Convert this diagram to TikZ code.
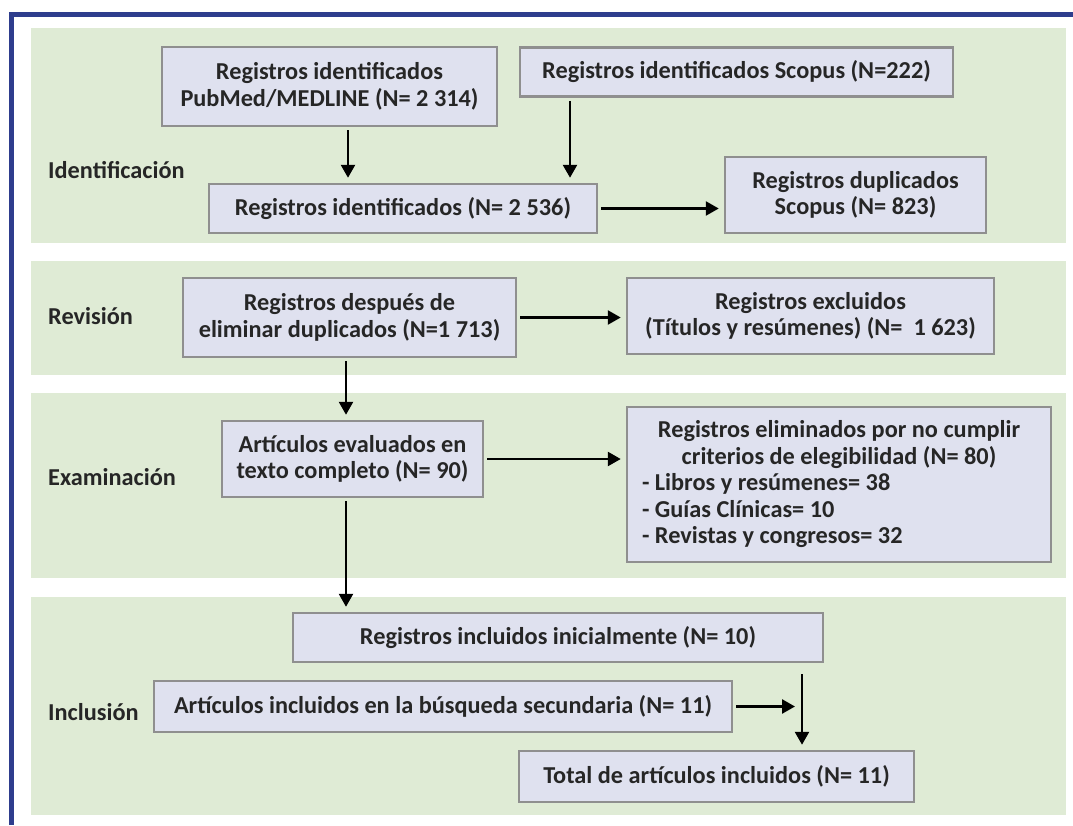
\documentclass[tikz,border=0pt]{standalone}
\usepackage{fontspec}
\setmainfont{Carlito}
\usetikzlibrary{arrows.meta}
\definecolor{frameblue}{HTML}{2E3D8D}
\definecolor{panelgreen}{HTML}{DFEBD5}
\definecolor{boxfill}{HTML}{DFE1EF}
\definecolor{boxline}{HTML}{8F8F8F}
\definecolor{txt}{HTML}{262626}
\begin{document}
\begin{tikzpicture}[x=1pt,y=-1pt,
  font=\bfseries\fontsize{24.3}{26.5}\selectfont,
  box/.style={draw=boxline, line width=2.5pt, fill=boxfill, align=center, inner sep=0pt, text=txt},
  arr/.style={-{Triangle[length=13pt,width=14pt]}, line width=2.6pt, shorten >=5pt, shorten <=3pt},
  stage/.style={anchor=west, text=txt, inner sep=0pt},
  panel/.style={fill=panelgreen}]
\useasboundingbox (0,0) rectangle (1073,825);
\fill[white] (0,0) rectangle (1073,825);
% frame
\draw[frameblue, line width=5pt] (11.5,825) -- (11.5,14.5) -- (1073,14.5);
% panels
\fill[panel] (31,28) rectangle (1066,243);
\fill[panel] (31,261) rectangle (1066,375);
\fill[panel] (31,393) rectangle (1066,578);
\fill[panel] (31,597) rectangle (1066,815);
% stage labels
\node[stage] (s1) at (48,170) {Identificación};
\node[stage] (s2) at (48,316) {Revisión};
\node[stage] (s3) at (48,477) {Examinación};
\node[stage] (s4) at (48,712) {Inclusión};
% boxes
\node[box, minimum width=335, minimum height=79] (pub) at (329.5,86.5) {Registros identificados\\PubMed/MEDLINE (N= 2 314)};
\node[box, minimum width=433, minimum height=49] (sco) at (736.5,72) {Registros identificados Scopus (N=222)};
\node[box, minimum width=388, minimum height=49] (ide) at (403,208.5) {Registros identificados (N= 2 536)};
\node[box, minimum width=261, minimum height=76] (dup) at (855.5,195) {Registros duplicados\\Scopus (N= 823)};
\node[box, minimum width=333, minimum height=79] (des) at (349.5,317.5) {Registros después de\\eliminar duplicados (N=1 713)};
\node[box, minimum width=367, minimum height=76] (exc) at (810.5,316) {Registros excluidos\\(Títulos y resúmenes) (N=~~1 623)};
\node[box, minimum width=261, minimum height=76] (eva) at (352.5,459) {Artículos evaluados en\\texto completo (N= 90)};
\node[box, minimum width=424, minimum height=155] (eli) at (839,484.5) {\parbox{394pt}{\centering Registros eliminados por no cumplir\\criterios de elegibilidad (N= 80)\par\raggedright - Libros y resúmenes= 38\\- Guías Clínicas= 10\\- Revistas y congresos= 32}};
\node[box, minimum width=530, minimum height=49] (ini) at (558,637.5) {Registros incluidos inicialmente (N= 10)};
\node[box, minimum width=578, minimum height=51] (sec) at (443,706.5) {Artículos incluidos en la búsqueda secundaria (N= 11)};
\node[box, minimum width=395, minimum height=51] (tot) at (716.5,776.5) {Total de artículos incluidos (N= 11)};
% helper coordinates
\coordinate (xa) at (348,0);
\coordinate (xb) at (570,0);
\coordinate (xc) at (346,0);
\coordinate (vtop) at (802,674);
% arrows
\draw[arr] (xa |- pub.south) -- (xa |- ide.north);
\draw[arr] (xb |- sco.south) -- (xb |- ide.north);
\draw[arr] (ide.east) -- (ide.east -| dup.west);
\draw[arr] (des.east) -- (des.east -| exc.west);
\draw[arr] (xc |- des.south) -- (xc |- eva.north);
\draw[arr] (eva.east) -- (eva.east -| eli.west);
\draw[arr] (xc |- eva.south) -- (xc |- ini.north);
\draw[arr, shorten >=7pt] (sec.east) -- (sec.east -| vtop);
\draw[arr, shorten <=0pt] (vtop) -- (vtop |- tot.north);
\end{tikzpicture}
\end{document}
